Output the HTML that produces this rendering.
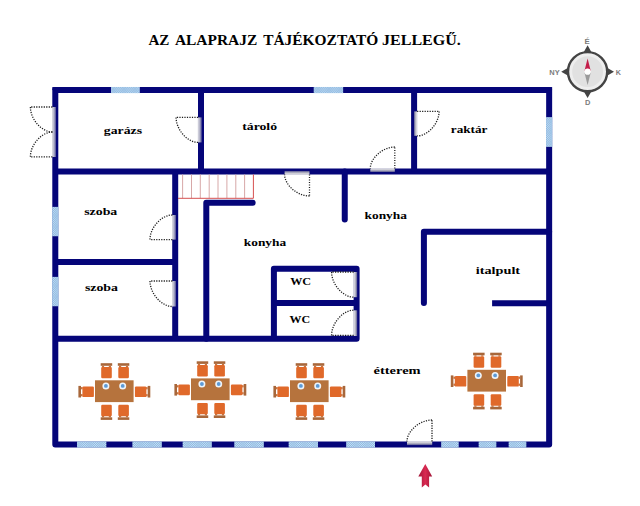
<!DOCTYPE html>
<html><head><meta charset="utf-8"><title>Alaprajz</title>
<style>
html,body{margin:0;padding:0;background:#fff;}
body{width:640px;height:506px;overflow:hidden;font-family:"Liberation Serif",serif;}
svg{display:block;}
.dot{fill:none;stroke:#1c1c1c;stroke-width:1.3;stroke-dasharray:1.2 1.3;}
</style></head><body>
<svg width="640" height="506" viewBox="0 0 640 506">
<rect width="640" height="506" fill="#fff"/>
<defs>
<pattern id="win" width="2" height="2" patternUnits="userSpaceOnUse"><rect width="2" height="2" fill="#b4d8f0"/><path d="M0,0 L2,2 M2,0 L0,2" stroke="#86b0da" stroke-width="0.62"/></pattern>
<linearGradient id="gL" x1="0" x2="1" y1="0" y2="0"><stop offset="0" stop-color="#f2f2f2"/><stop offset="0.45" stop-color="#bcbcc8"/><stop offset="0.8" stop-color="#6c6c9c"/><stop offset="1" stop-color="#050579"/></linearGradient>
<linearGradient id="gL2" x1="0" x2="1" y1="0" y2="0"><stop offset="0" stop-color="#dedee6"/><stop offset="0.45" stop-color="#b4b4c8"/><stop offset="0.8" stop-color="#6464a0"/><stop offset="1" stop-color="#050579"/></linearGradient>
<linearGradient id="gR" x1="1" x2="0" y1="0" y2="0"><stop offset="0" stop-color="#f2f2f2"/><stop offset="0.45" stop-color="#bcbcc8"/><stop offset="0.8" stop-color="#6c6c9c"/><stop offset="1" stop-color="#050579"/></linearGradient>
<linearGradient id="gT" x1="0" x2="0" y1="0" y2="1"><stop offset="0" stop-color="#f2f2f2"/><stop offset="0.45" stop-color="#bcbcc8"/><stop offset="0.8" stop-color="#6c6c9c"/><stop offset="1" stop-color="#050579"/></linearGradient>
<linearGradient id="gB" x1="0" x2="0" y1="1" y2="0"><stop offset="0" stop-color="#f2f2f2"/><stop offset="0.45" stop-color="#bcbcc8"/><stop offset="0.8" stop-color="#6c6c9c"/><stop offset="1" stop-color="#050579"/></linearGradient>
<linearGradient id="arr" x1="0" x2="1" y1="0" y2="0"><stop offset="0" stop-color="#a01436"/><stop offset="0.5" stop-color="#da2a52"/><stop offset="1" stop-color="#a01436"/></linearGradient>
</defs>
<g fill="none" stroke="#050579" stroke-width="6.0" stroke-linejoin="round" stroke-linecap="butt">
<path d="M55.3,90.05 H549.15 V444.5 H55.3 Z"/>
<rect x="52.3" y="87.05" width="3.0" height="3.0" fill="#050579" stroke="none"/>
<rect x="549.15" y="87.05" width="3.0" height="3.0" fill="#050579" stroke="none"/>
<path d="M55.3,171.5 H549.15"/>
<path d="M201,90.05 V171.5"/>
<path d="M414.1,90.05 V171.5"/>
<path d="M175.2,171.5 V338.8"/>
<path d="M55.3,261.9 H175.2"/>
<path d="M55.3,338.8 H356.6 V268.7 H273.9 V338.8"/>
<path d="M273.9,303.1 H356.6"/>
<path d="M252.7,202.85 H206.3 V338.8" stroke-linecap="round"/>
<path d="M344.75,171.5 V219.5" stroke-linecap="round"/>
<path d="M549.15,231.85 H423.9 V302.9" stroke-linecap="round"/>
<path d="M492.1,303.15 H549.15"/>
</g>
<clipPath id="c1"><rect x="111.00" y="86.95" width="28.70" height="6.20"/></clipPath><rect x="111.00" y="86.95" width="28.70" height="6.20" fill="#c2e0f6"/><path d="M104.40,86.95l6.20,6.20M110.60,86.95l-6.20,6.20M106.60,86.95l6.20,6.20M112.80,86.95l-6.20,6.20M108.80,86.95l6.20,6.20M115.00,86.95l-6.20,6.20M111.00,86.95l6.20,6.20M117.20,86.95l-6.20,6.20M113.20,86.95l6.20,6.20M119.40,86.95l-6.20,6.20M115.40,86.95l6.20,6.20M121.60,86.95l-6.20,6.20M117.60,86.95l6.20,6.20M123.80,86.95l-6.20,6.20M119.80,86.95l6.20,6.20M126.00,86.95l-6.20,6.20M122.00,86.95l6.20,6.20M128.20,86.95l-6.20,6.20M124.20,86.95l6.20,6.20M130.40,86.95l-6.20,6.20M126.40,86.95l6.20,6.20M132.60,86.95l-6.20,6.20M128.60,86.95l6.20,6.20M134.80,86.95l-6.20,6.20M130.80,86.95l6.20,6.20M137.00,86.95l-6.20,6.20M133.00,86.95l6.20,6.20M139.20,86.95l-6.20,6.20M135.20,86.95l6.20,6.20M141.40,86.95l-6.20,6.20M137.40,86.95l6.20,6.20M143.60,86.95l-6.20,6.20M139.60,86.95l6.20,6.20M145.80,86.95l-6.20,6.20M141.80,86.95l6.20,6.20M148.00,86.95l-6.20,6.20M144.00,86.95l6.20,6.20M150.20,86.95l-6.20,6.20M146.20,86.95l6.20,6.20M152.40,86.95l-6.20,6.20" clip-path="url(#c1)" stroke="#84aeda" stroke-width="0.6" fill="none"/>
<clipPath id="c2"><rect x="313.80" y="86.95" width="29.30" height="6.20"/></clipPath><rect x="313.80" y="86.95" width="29.30" height="6.20" fill="#c2e0f6"/><path d="M307.20,86.95l6.20,6.20M313.40,86.95l-6.20,6.20M309.40,86.95l6.20,6.20M315.60,86.95l-6.20,6.20M311.60,86.95l6.20,6.20M317.80,86.95l-6.20,6.20M313.80,86.95l6.20,6.20M320.00,86.95l-6.20,6.20M316.00,86.95l6.20,6.20M322.20,86.95l-6.20,6.20M318.20,86.95l6.20,6.20M324.40,86.95l-6.20,6.20M320.40,86.95l6.20,6.20M326.60,86.95l-6.20,6.20M322.60,86.95l6.20,6.20M328.80,86.95l-6.20,6.20M324.80,86.95l6.20,6.20M331.00,86.95l-6.20,6.20M327.00,86.95l6.20,6.20M333.20,86.95l-6.20,6.20M329.20,86.95l6.20,6.20M335.40,86.95l-6.20,6.20M331.40,86.95l6.20,6.20M337.60,86.95l-6.20,6.20M333.60,86.95l6.20,6.20M339.80,86.95l-6.20,6.20M335.80,86.95l6.20,6.20M342.00,86.95l-6.20,6.20M338.00,86.95l6.20,6.20M344.20,86.95l-6.20,6.20M340.20,86.95l6.20,6.20M346.40,86.95l-6.20,6.20M342.40,86.95l6.20,6.20M348.60,86.95l-6.20,6.20M344.60,86.95l6.20,6.20M350.80,86.95l-6.20,6.20M346.80,86.95l6.20,6.20M353.00,86.95l-6.20,6.20M349.00,86.95l6.20,6.20M355.20,86.95l-6.20,6.20M351.20,86.95l6.20,6.20M357.40,86.95l-6.20,6.20" clip-path="url(#c2)" stroke="#84aeda" stroke-width="0.6" fill="none"/>
<clipPath id="c3"><rect x="77.00" y="441.40" width="29.25" height="6.20"/></clipPath><rect x="77.00" y="441.40" width="29.25" height="6.20" fill="#c2e0f6"/><path d="M70.40,441.40l6.20,6.20M76.60,441.40l-6.20,6.20M72.60,441.40l6.20,6.20M78.80,441.40l-6.20,6.20M74.80,441.40l6.20,6.20M81.00,441.40l-6.20,6.20M77.00,441.40l6.20,6.20M83.20,441.40l-6.20,6.20M79.20,441.40l6.20,6.20M85.40,441.40l-6.20,6.20M81.40,441.40l6.20,6.20M87.60,441.40l-6.20,6.20M83.60,441.40l6.20,6.20M89.80,441.40l-6.20,6.20M85.80,441.40l6.20,6.20M92.00,441.40l-6.20,6.20M88.00,441.40l6.20,6.20M94.20,441.40l-6.20,6.20M90.20,441.40l6.20,6.20M96.40,441.40l-6.20,6.20M92.40,441.40l6.20,6.20M98.60,441.40l-6.20,6.20M94.60,441.40l6.20,6.20M100.80,441.40l-6.20,6.20M96.80,441.40l6.20,6.20M103.00,441.40l-6.20,6.20M99.00,441.40l6.20,6.20M105.20,441.40l-6.20,6.20M101.20,441.40l6.20,6.20M107.40,441.40l-6.20,6.20M103.40,441.40l6.20,6.20M109.60,441.40l-6.20,6.20M105.60,441.40l6.20,6.20M111.80,441.40l-6.20,6.20M107.80,441.40l6.20,6.20M114.00,441.40l-6.20,6.20M110.00,441.40l6.20,6.20M116.20,441.40l-6.20,6.20M112.20,441.40l6.20,6.20M118.40,441.40l-6.20,6.20M114.40,441.40l6.20,6.20M120.60,441.40l-6.20,6.20" clip-path="url(#c3)" stroke="#84aeda" stroke-width="0.6" fill="none"/>
<clipPath id="c4"><rect x="132.50" y="441.40" width="29.25" height="6.20"/></clipPath><rect x="132.50" y="441.40" width="29.25" height="6.20" fill="#c2e0f6"/><path d="M125.90,441.40l6.20,6.20M132.10,441.40l-6.20,6.20M128.10,441.40l6.20,6.20M134.30,441.40l-6.20,6.20M130.30,441.40l6.20,6.20M136.50,441.40l-6.20,6.20M132.50,441.40l6.20,6.20M138.70,441.40l-6.20,6.20M134.70,441.40l6.20,6.20M140.90,441.40l-6.20,6.20M136.90,441.40l6.20,6.20M143.10,441.40l-6.20,6.20M139.10,441.40l6.20,6.20M145.30,441.40l-6.20,6.20M141.30,441.40l6.20,6.20M147.50,441.40l-6.20,6.20M143.50,441.40l6.20,6.20M149.70,441.40l-6.20,6.20M145.70,441.40l6.20,6.20M151.90,441.40l-6.20,6.20M147.90,441.40l6.20,6.20M154.10,441.40l-6.20,6.20M150.10,441.40l6.20,6.20M156.30,441.40l-6.20,6.20M152.30,441.40l6.20,6.20M158.50,441.40l-6.20,6.20M154.50,441.40l6.20,6.20M160.70,441.40l-6.20,6.20M156.70,441.40l6.20,6.20M162.90,441.40l-6.20,6.20M158.90,441.40l6.20,6.20M165.10,441.40l-6.20,6.20M161.10,441.40l6.20,6.20M167.30,441.40l-6.20,6.20M163.30,441.40l6.20,6.20M169.50,441.40l-6.20,6.20M165.50,441.40l6.20,6.20M171.70,441.40l-6.20,6.20M167.70,441.40l6.20,6.20M173.90,441.40l-6.20,6.20M169.90,441.40l6.20,6.20M176.10,441.40l-6.20,6.20" clip-path="url(#c4)" stroke="#84aeda" stroke-width="0.6" fill="none"/>
<clipPath id="c5"><rect x="182.75" y="441.40" width="29.00" height="6.20"/></clipPath><rect x="182.75" y="441.40" width="29.00" height="6.20" fill="#c2e0f6"/><path d="M176.15,441.40l6.20,6.20M182.35,441.40l-6.20,6.20M178.35,441.40l6.20,6.20M184.55,441.40l-6.20,6.20M180.55,441.40l6.20,6.20M186.75,441.40l-6.20,6.20M182.75,441.40l6.20,6.20M188.95,441.40l-6.20,6.20M184.95,441.40l6.20,6.20M191.15,441.40l-6.20,6.20M187.15,441.40l6.20,6.20M193.35,441.40l-6.20,6.20M189.35,441.40l6.20,6.20M195.55,441.40l-6.20,6.20M191.55,441.40l6.20,6.20M197.75,441.40l-6.20,6.20M193.75,441.40l6.20,6.20M199.95,441.40l-6.20,6.20M195.95,441.40l6.20,6.20M202.15,441.40l-6.20,6.20M198.15,441.40l6.20,6.20M204.35,441.40l-6.20,6.20M200.35,441.40l6.20,6.20M206.55,441.40l-6.20,6.20M202.55,441.40l6.20,6.20M208.75,441.40l-6.20,6.20M204.75,441.40l6.20,6.20M210.95,441.40l-6.20,6.20M206.95,441.40l6.20,6.20M213.15,441.40l-6.20,6.20M209.15,441.40l6.20,6.20M215.35,441.40l-6.20,6.20M211.35,441.40l6.20,6.20M217.55,441.40l-6.20,6.20M213.55,441.40l6.20,6.20M219.75,441.40l-6.20,6.20M215.75,441.40l6.20,6.20M221.95,441.40l-6.20,6.20M217.95,441.40l6.20,6.20M224.15,441.40l-6.20,6.20M220.15,441.40l6.20,6.20M226.35,441.40l-6.20,6.20" clip-path="url(#c5)" stroke="#84aeda" stroke-width="0.6" fill="none"/>
<clipPath id="c6"><rect x="234.40" y="441.40" width="29.35" height="6.20"/></clipPath><rect x="234.40" y="441.40" width="29.35" height="6.20" fill="#c2e0f6"/><path d="M227.80,441.40l6.20,6.20M234.00,441.40l-6.20,6.20M230.00,441.40l6.20,6.20M236.20,441.40l-6.20,6.20M232.20,441.40l6.20,6.20M238.40,441.40l-6.20,6.20M234.40,441.40l6.20,6.20M240.60,441.40l-6.20,6.20M236.60,441.40l6.20,6.20M242.80,441.40l-6.20,6.20M238.80,441.40l6.20,6.20M245.00,441.40l-6.20,6.20M241.00,441.40l6.20,6.20M247.20,441.40l-6.20,6.20M243.20,441.40l6.20,6.20M249.40,441.40l-6.20,6.20M245.40,441.40l6.20,6.20M251.60,441.40l-6.20,6.20M247.60,441.40l6.20,6.20M253.80,441.40l-6.20,6.20M249.80,441.40l6.20,6.20M256.00,441.40l-6.20,6.20M252.00,441.40l6.20,6.20M258.20,441.40l-6.20,6.20M254.20,441.40l6.20,6.20M260.40,441.40l-6.20,6.20M256.40,441.40l6.20,6.20M262.60,441.40l-6.20,6.20M258.60,441.40l6.20,6.20M264.80,441.40l-6.20,6.20M260.80,441.40l6.20,6.20M267.00,441.40l-6.20,6.20M263.00,441.40l6.20,6.20M269.20,441.40l-6.20,6.20M265.20,441.40l6.20,6.20M271.40,441.40l-6.20,6.20M267.40,441.40l6.20,6.20M273.60,441.40l-6.20,6.20M269.60,441.40l6.20,6.20M275.80,441.40l-6.20,6.20M271.80,441.40l6.20,6.20M278.00,441.40l-6.20,6.20" clip-path="url(#c6)" stroke="#84aeda" stroke-width="0.6" fill="none"/>
<clipPath id="c7"><rect x="288.75" y="441.40" width="29.25" height="6.20"/></clipPath><rect x="288.75" y="441.40" width="29.25" height="6.20" fill="#c2e0f6"/><path d="M282.15,441.40l6.20,6.20M288.35,441.40l-6.20,6.20M284.35,441.40l6.20,6.20M290.55,441.40l-6.20,6.20M286.55,441.40l6.20,6.20M292.75,441.40l-6.20,6.20M288.75,441.40l6.20,6.20M294.95,441.40l-6.20,6.20M290.95,441.40l6.20,6.20M297.15,441.40l-6.20,6.20M293.15,441.40l6.20,6.20M299.35,441.40l-6.20,6.20M295.35,441.40l6.20,6.20M301.55,441.40l-6.20,6.20M297.55,441.40l6.20,6.20M303.75,441.40l-6.20,6.20M299.75,441.40l6.20,6.20M305.95,441.40l-6.20,6.20M301.95,441.40l6.20,6.20M308.15,441.40l-6.20,6.20M304.15,441.40l6.20,6.20M310.35,441.40l-6.20,6.20M306.35,441.40l6.20,6.20M312.55,441.40l-6.20,6.20M308.55,441.40l6.20,6.20M314.75,441.40l-6.20,6.20M310.75,441.40l6.20,6.20M316.95,441.40l-6.20,6.20M312.95,441.40l6.20,6.20M319.15,441.40l-6.20,6.20M315.15,441.40l6.20,6.20M321.35,441.40l-6.20,6.20M317.35,441.40l6.20,6.20M323.55,441.40l-6.20,6.20M319.55,441.40l6.20,6.20M325.75,441.40l-6.20,6.20M321.75,441.40l6.20,6.20M327.95,441.40l-6.20,6.20M323.95,441.40l6.20,6.20M330.15,441.40l-6.20,6.20M326.15,441.40l6.20,6.20M332.35,441.40l-6.20,6.20" clip-path="url(#c7)" stroke="#84aeda" stroke-width="0.6" fill="none"/>
<clipPath id="c8"><rect x="346.25" y="441.40" width="28.75" height="6.20"/></clipPath><rect x="346.25" y="441.40" width="28.75" height="6.20" fill="#c2e0f6"/><path d="M339.65,441.40l6.20,6.20M345.85,441.40l-6.20,6.20M341.85,441.40l6.20,6.20M348.05,441.40l-6.20,6.20M344.05,441.40l6.20,6.20M350.25,441.40l-6.20,6.20M346.25,441.40l6.20,6.20M352.45,441.40l-6.20,6.20M348.45,441.40l6.20,6.20M354.65,441.40l-6.20,6.20M350.65,441.40l6.20,6.20M356.85,441.40l-6.20,6.20M352.85,441.40l6.20,6.20M359.05,441.40l-6.20,6.20M355.05,441.40l6.20,6.20M361.25,441.40l-6.20,6.20M357.25,441.40l6.20,6.20M363.45,441.40l-6.20,6.20M359.45,441.40l6.20,6.20M365.65,441.40l-6.20,6.20M361.65,441.40l6.20,6.20M367.85,441.40l-6.20,6.20M363.85,441.40l6.20,6.20M370.05,441.40l-6.20,6.20M366.05,441.40l6.20,6.20M372.25,441.40l-6.20,6.20M368.25,441.40l6.20,6.20M374.45,441.40l-6.20,6.20M370.45,441.40l6.20,6.20M376.65,441.40l-6.20,6.20M372.65,441.40l6.20,6.20M378.85,441.40l-6.20,6.20M374.85,441.40l6.20,6.20M381.05,441.40l-6.20,6.20M377.05,441.40l6.20,6.20M383.25,441.40l-6.20,6.20M379.25,441.40l6.20,6.20M385.45,441.40l-6.20,6.20M381.45,441.40l6.20,6.20M387.65,441.40l-6.20,6.20" clip-path="url(#c8)" stroke="#84aeda" stroke-width="0.6" fill="none"/>
<clipPath id="c9"><rect x="441.25" y="441.40" width="17.35" height="6.20"/></clipPath><rect x="441.25" y="441.40" width="17.35" height="6.20" fill="#c2e0f6"/><path d="M434.65,441.40l6.20,6.20M440.85,441.40l-6.20,6.20M436.85,441.40l6.20,6.20M443.05,441.40l-6.20,6.20M439.05,441.40l6.20,6.20M445.25,441.40l-6.20,6.20M441.25,441.40l6.20,6.20M447.45,441.40l-6.20,6.20M443.45,441.40l6.20,6.20M449.65,441.40l-6.20,6.20M445.65,441.40l6.20,6.20M451.85,441.40l-6.20,6.20M447.85,441.40l6.20,6.20M454.05,441.40l-6.20,6.20M450.05,441.40l6.20,6.20M456.25,441.40l-6.20,6.20M452.25,441.40l6.20,6.20M458.45,441.40l-6.20,6.20M454.45,441.40l6.20,6.20M460.65,441.40l-6.20,6.20M456.65,441.40l6.20,6.20M462.85,441.40l-6.20,6.20M458.85,441.40l6.20,6.20M465.05,441.40l-6.20,6.20M461.05,441.40l6.20,6.20M467.25,441.40l-6.20,6.20M463.25,441.40l6.20,6.20M469.45,441.40l-6.20,6.20M465.45,441.40l6.20,6.20M471.65,441.40l-6.20,6.20" clip-path="url(#c9)" stroke="#84aeda" stroke-width="0.6" fill="none"/>
<clipPath id="c10"><rect x="478.75" y="441.40" width="17.50" height="6.20"/></clipPath><rect x="478.75" y="441.40" width="17.50" height="6.20" fill="#c2e0f6"/><path d="M472.15,441.40l6.20,6.20M478.35,441.40l-6.20,6.20M474.35,441.40l6.20,6.20M480.55,441.40l-6.20,6.20M476.55,441.40l6.20,6.20M482.75,441.40l-6.20,6.20M478.75,441.40l6.20,6.20M484.95,441.40l-6.20,6.20M480.95,441.40l6.20,6.20M487.15,441.40l-6.20,6.20M483.15,441.40l6.20,6.20M489.35,441.40l-6.20,6.20M485.35,441.40l6.20,6.20M491.55,441.40l-6.20,6.20M487.55,441.40l6.20,6.20M493.75,441.40l-6.20,6.20M489.75,441.40l6.20,6.20M495.95,441.40l-6.20,6.20M491.95,441.40l6.20,6.20M498.15,441.40l-6.20,6.20M494.15,441.40l6.20,6.20M500.35,441.40l-6.20,6.20M496.35,441.40l6.20,6.20M502.55,441.40l-6.20,6.20M498.55,441.40l6.20,6.20M504.75,441.40l-6.20,6.20M500.75,441.40l6.20,6.20M506.95,441.40l-6.20,6.20M502.95,441.40l6.20,6.20M509.15,441.40l-6.20,6.20" clip-path="url(#c10)" stroke="#84aeda" stroke-width="0.6" fill="none"/>
<clipPath id="c11"><rect x="508.75" y="441.40" width="17.50" height="6.20"/></clipPath><rect x="508.75" y="441.40" width="17.50" height="6.20" fill="#c2e0f6"/><path d="M502.15,441.40l6.20,6.20M508.35,441.40l-6.20,6.20M504.35,441.40l6.20,6.20M510.55,441.40l-6.20,6.20M506.55,441.40l6.20,6.20M512.75,441.40l-6.20,6.20M508.75,441.40l6.20,6.20M514.95,441.40l-6.20,6.20M510.95,441.40l6.20,6.20M517.15,441.40l-6.20,6.20M513.15,441.40l6.20,6.20M519.35,441.40l-6.20,6.20M515.35,441.40l6.20,6.20M521.55,441.40l-6.20,6.20M517.55,441.40l6.20,6.20M523.75,441.40l-6.20,6.20M519.75,441.40l6.20,6.20M525.95,441.40l-6.20,6.20M521.95,441.40l6.20,6.20M528.15,441.40l-6.20,6.20M524.15,441.40l6.20,6.20M530.35,441.40l-6.20,6.20M526.35,441.40l6.20,6.20M532.55,441.40l-6.20,6.20M528.55,441.40l6.20,6.20M534.75,441.40l-6.20,6.20M530.75,441.40l6.20,6.20M536.95,441.40l-6.20,6.20M532.95,441.40l6.20,6.20M539.15,441.40l-6.20,6.20" clip-path="url(#c11)" stroke="#84aeda" stroke-width="0.6" fill="none"/>
<clipPath id="c12"><rect x="52.20" y="206.90" width="6.20" height="29.30"/></clipPath><rect x="52.20" y="206.90" width="6.20" height="29.30" fill="#c2e0f6"/><path d="M21.40,206.90l29.30,29.30M50.70,206.90l-29.30,29.30M23.60,206.90l29.30,29.30M52.90,206.90l-29.30,29.30M25.80,206.90l29.30,29.30M55.10,206.90l-29.30,29.30M28.00,206.90l29.30,29.30M57.30,206.90l-29.30,29.30M30.20,206.90l29.30,29.30M59.50,206.90l-29.30,29.30M32.40,206.90l29.30,29.30M61.70,206.90l-29.30,29.30M34.60,206.90l29.30,29.30M63.90,206.90l-29.30,29.30M36.80,206.90l29.30,29.30M66.10,206.90l-29.30,29.30M39.00,206.90l29.30,29.30M68.30,206.90l-29.30,29.30M41.20,206.90l29.30,29.30M70.50,206.90l-29.30,29.30M43.40,206.90l29.30,29.30M72.70,206.90l-29.30,29.30M45.60,206.90l29.30,29.30M74.90,206.90l-29.30,29.30M47.80,206.90l29.30,29.30M77.10,206.90l-29.30,29.30M50.00,206.90l29.30,29.30M79.30,206.90l-29.30,29.30M52.20,206.90l29.30,29.30M81.50,206.90l-29.30,29.30M54.40,206.90l29.30,29.30M83.70,206.90l-29.30,29.30M56.60,206.90l29.30,29.30M85.90,206.90l-29.30,29.30M58.80,206.90l29.30,29.30M88.10,206.90l-29.30,29.30M61.00,206.90l29.30,29.30M90.30,206.90l-29.30,29.30M63.20,206.90l29.30,29.30M92.50,206.90l-29.30,29.30M65.40,206.90l29.30,29.30M94.70,206.90l-29.30,29.30M67.60,206.90l29.30,29.30M96.90,206.90l-29.30,29.30M69.80,206.90l29.30,29.30M99.10,206.90l-29.30,29.30M72.00,206.90l29.30,29.30M101.30,206.90l-29.30,29.30M74.20,206.90l29.30,29.30M103.50,206.90l-29.30,29.30M76.40,206.90l29.30,29.30M105.70,206.90l-29.30,29.30M78.60,206.90l29.30,29.30M107.90,206.90l-29.30,29.30M80.80,206.90l29.30,29.30M110.10,206.90l-29.30,29.30M83.00,206.90l29.30,29.30M112.30,206.90l-29.30,29.30M85.20,206.90l29.30,29.30M114.50,206.90l-29.30,29.30M87.40,206.90l29.30,29.30M116.70,206.90l-29.30,29.30M89.60,206.90l29.30,29.30M118.90,206.90l-29.30,29.30" clip-path="url(#c12)" stroke="#84aeda" stroke-width="0.6" fill="none"/>
<clipPath id="c13"><rect x="52.20" y="276.90" width="6.20" height="29.30"/></clipPath><rect x="52.20" y="276.90" width="6.20" height="29.30" fill="#c2e0f6"/><path d="M21.40,276.90l29.30,29.30M50.70,276.90l-29.30,29.30M23.60,276.90l29.30,29.30M52.90,276.90l-29.30,29.30M25.80,276.90l29.30,29.30M55.10,276.90l-29.30,29.30M28.00,276.90l29.30,29.30M57.30,276.90l-29.30,29.30M30.20,276.90l29.30,29.30M59.50,276.90l-29.30,29.30M32.40,276.90l29.30,29.30M61.70,276.90l-29.30,29.30M34.60,276.90l29.30,29.30M63.90,276.90l-29.30,29.30M36.80,276.90l29.30,29.30M66.10,276.90l-29.30,29.30M39.00,276.90l29.30,29.30M68.30,276.90l-29.30,29.30M41.20,276.90l29.30,29.30M70.50,276.90l-29.30,29.30M43.40,276.90l29.30,29.30M72.70,276.90l-29.30,29.30M45.60,276.90l29.30,29.30M74.90,276.90l-29.30,29.30M47.80,276.90l29.30,29.30M77.10,276.90l-29.30,29.30M50.00,276.90l29.30,29.30M79.30,276.90l-29.30,29.30M52.20,276.90l29.30,29.30M81.50,276.90l-29.30,29.30M54.40,276.90l29.30,29.30M83.70,276.90l-29.30,29.30M56.60,276.90l29.30,29.30M85.90,276.90l-29.30,29.30M58.80,276.90l29.30,29.30M88.10,276.90l-29.30,29.30M61.00,276.90l29.30,29.30M90.30,276.90l-29.30,29.30M63.20,276.90l29.30,29.30M92.50,276.90l-29.30,29.30M65.40,276.90l29.30,29.30M94.70,276.90l-29.30,29.30M67.60,276.90l29.30,29.30M96.90,276.90l-29.30,29.30M69.80,276.90l29.30,29.30M99.10,276.90l-29.30,29.30M72.00,276.90l29.30,29.30M101.30,276.90l-29.30,29.30M74.20,276.90l29.30,29.30M103.50,276.90l-29.30,29.30M76.40,276.90l29.30,29.30M105.70,276.90l-29.30,29.30M78.60,276.90l29.30,29.30M107.90,276.90l-29.30,29.30M80.80,276.90l29.30,29.30M110.10,276.90l-29.30,29.30M83.00,276.90l29.30,29.30M112.30,276.90l-29.30,29.30M85.20,276.90l29.30,29.30M114.50,276.90l-29.30,29.30M87.40,276.90l29.30,29.30M116.70,276.90l-29.30,29.30M89.60,276.90l29.30,29.30M118.90,276.90l-29.30,29.30" clip-path="url(#c13)" stroke="#84aeda" stroke-width="0.6" fill="none"/>
<clipPath id="c14"><rect x="546.05" y="117.20" width="6.20" height="29.60"/></clipPath><rect x="546.05" y="117.20" width="6.20" height="29.60" fill="#c2e0f6"/><path d="M515.25,117.20l29.60,29.60M544.85,117.20l-29.60,29.60M517.45,117.20l29.60,29.60M547.05,117.20l-29.60,29.60M519.65,117.20l29.60,29.60M549.25,117.20l-29.60,29.60M521.85,117.20l29.60,29.60M551.45,117.20l-29.60,29.60M524.05,117.20l29.60,29.60M553.65,117.20l-29.60,29.60M526.25,117.20l29.60,29.60M555.85,117.20l-29.60,29.60M528.45,117.20l29.60,29.60M558.05,117.20l-29.60,29.60M530.65,117.20l29.60,29.60M560.25,117.20l-29.60,29.60M532.85,117.20l29.60,29.60M562.45,117.20l-29.60,29.60M535.05,117.20l29.60,29.60M564.65,117.20l-29.60,29.60M537.25,117.20l29.60,29.60M566.85,117.20l-29.60,29.60M539.45,117.20l29.60,29.60M569.05,117.20l-29.60,29.60M541.65,117.20l29.60,29.60M571.25,117.20l-29.60,29.60M543.85,117.20l29.60,29.60M573.45,117.20l-29.60,29.60M546.05,117.20l29.60,29.60M575.65,117.20l-29.60,29.60M548.25,117.20l29.60,29.60M577.85,117.20l-29.60,29.60M550.45,117.20l29.60,29.60M580.05,117.20l-29.60,29.60M552.65,117.20l29.60,29.60M582.25,117.20l-29.60,29.60M554.85,117.20l29.60,29.60M584.45,117.20l-29.60,29.60M557.05,117.20l29.60,29.60M586.65,117.20l-29.60,29.60M559.25,117.20l29.60,29.60M588.85,117.20l-29.60,29.60M561.45,117.20l29.60,29.60M591.05,117.20l-29.60,29.60M563.65,117.20l29.60,29.60M593.25,117.20l-29.60,29.60M565.85,117.20l29.60,29.60M595.45,117.20l-29.60,29.60M568.05,117.20l29.60,29.60M597.65,117.20l-29.60,29.60M570.25,117.20l29.60,29.60M599.85,117.20l-29.60,29.60M572.45,117.20l29.60,29.60M602.05,117.20l-29.60,29.60M574.65,117.20l29.60,29.60M604.25,117.20l-29.60,29.60M576.85,117.20l29.60,29.60M606.45,117.20l-29.60,29.60M579.05,117.20l29.60,29.60M608.65,117.20l-29.60,29.60M581.25,117.20l29.60,29.60M610.85,117.20l-29.60,29.60M583.45,117.20l29.60,29.60M613.05,117.20l-29.60,29.60" clip-path="url(#c14)" stroke="#84aeda" stroke-width="0.6" fill="none"/>
<g stroke="#d29e9e" stroke-width="0.9" fill="none"><path d="M182.6,174.5 V198.3"/><path d="M191.5,174.5 V198.3"/><path d="M200.3,174.5 V198.3"/><path d="M209.2,174.5 V198.3"/><path d="M218.0,174.5 V198.3"/><path d="M226.9,174.5 V198.3"/><path d="M235.8,174.5 V198.3"/><path d="M244.6,174.5 V198.3"/></g><path d="M178,198.3 H253.4 V174.5" fill="none" stroke="#d65050" stroke-width="1"/>
<rect x="52.0" y="107" width="4.4" height="50" fill="url(#gL2)"/>
<path d="M52.40,107.00 L30.40,107.00" class="dot"/><path d="M30.40,107.00 C30.40,119.25 41.62,132.00 52.40,132.00" class="dot"/>
<path d="M52.40,156.80 L30.40,156.80" class="dot"/><path d="M30.40,156.80 C30.40,144.65 41.62,132.00 52.40,132.00" class="dot"/>
<rect x="197.7" y="117.4" width="4.4" height="25" fill="url(#gL2)"/>
<path d="M198.10,117.40 L176.10,117.40" class="dot"/><path d="M176.10,117.40 C176.10,129.65 187.32,142.40 198.10,142.40" class="dot"/>
<rect x="413.5" y="111.4" width="4.0" height="24.4" fill="url(#gR)"/>
<path d="M417.10,111.40 L439.10,111.40" class="dot"/><path d="M439.10,111.40 C439.10,123.41 427.88,135.90 417.10,135.90" class="dot"/>
<rect x="370.3" y="168.2" width="24.5" height="4.3" fill="url(#gT)"/>
<path d="M394.80,168.60 L394.80,147.00" class="dot"/><path d="M394.80,147.00 C382.80,147.00 370.30,158.02 370.30,168.60" class="dot"/>
<rect x="284.6" y="170.5" width="24.9" height="4.3" fill="url(#gB)"/>
<path d="M309.50,174.40 L309.50,196.00" class="dot"/><path d="M309.50,196.00 C297.30,196.00 284.60,184.98 284.60,174.40" class="dot"/>
<rect x="172.0" y="215" width="4.4" height="24.6" fill="url(#gL2)"/>
<path d="M172.40,239.60 L150.00,239.60" class="dot"/><path d="M150.00,239.60 C150.00,227.55 161.42,215.00 172.40,215.00" class="dot"/>
<rect x="172.0" y="281" width="4.4" height="25.5" fill="url(#gL2)"/>
<path d="M172.40,281.00 L150.00,281.00" class="dot"/><path d="M150.00,281.00 C150.00,293.50 161.42,306.50 172.40,306.50" class="dot"/>
<rect x="353.3" y="272" width="4.4" height="25.2" fill="url(#gL)"/>
<path d="M353.70,272.00 L331.60,272.00" class="dot"/><path d="M331.60,272.00 C331.60,284.35 342.87,297.20 353.70,297.20" class="dot"/>
<rect x="353.3" y="310.3" width="4.4" height="25.7" fill="url(#gL)"/>
<path d="M353.70,335.40 L331.60,335.40" class="dot"/><path d="M331.60,335.40 C331.60,323.05 342.87,310.20 353.70,310.20" class="dot"/>
<rect x="407" y="441.2" width="25.2" height="4.4" fill="url(#gT)"/>
<path d="M432.00,441.50 L432.00,420.00" class="dot"/><path d="M432.00,420.00 C419.75,420.00 407.00,430.96 407.00,441.50" class="dot"/>
<g transform="translate(0,0)"><rect x="95" y="380.3" width="38.6" height="21.8" fill="#b6733d"/><rect x="100.7" y="363.2" width="11.5" height="2.6" fill="#a8673a"/><rect x="101.9" y="365.8" width="2.2" height="1.4" fill="#c8733f"/><rect x="108.8" y="365.8" width="2.2" height="1.4" fill="#c8733f"/><rect x="101.2" y="366.9" width="10.6" height="11.4" rx="1.2" fill="#e0692a"/><rect x="101.2" y="404.8" width="10.6" height="11.4" rx="1.2" fill="#e0692a"/><rect x="101.9" y="415.9" width="2.2" height="1.4" fill="#c8733f"/><rect x="108.8" y="415.9" width="2.2" height="1.4" fill="#c8733f"/><rect x="100.7" y="417.3" width="11.5" height="2.6" fill="#a8673a"/><rect x="117.8" y="363.2" width="11.5" height="2.6" fill="#a8673a"/><rect x="119.0" y="365.8" width="2.2" height="1.4" fill="#c8733f"/><rect x="125.89999999999999" y="365.8" width="2.2" height="1.4" fill="#c8733f"/><rect x="118.3" y="366.9" width="10.6" height="11.4" rx="1.2" fill="#e0692a"/><rect x="118.3" y="404.8" width="10.6" height="11.4" rx="1.2" fill="#e0692a"/><rect x="119.0" y="415.9" width="2.2" height="1.4" fill="#c8733f"/><rect x="125.89999999999999" y="415.9" width="2.2" height="1.4" fill="#c8733f"/><rect x="117.8" y="417.3" width="11.5" height="2.6" fill="#a8673a"/><rect x="78.4" y="385.9" width="2.6" height="11.6" fill="#a8673a"/><rect x="81" y="387.1" width="1.6" height="2.2" fill="#c8733f"/><rect x="81" y="394.1" width="1.6" height="2.2" fill="#c8733f"/><rect x="82.4" y="386.4" width="11.5" height="10.7" rx="1.2" fill="#e0692a"/><rect x="147.7" y="385.9" width="2.6" height="11.6" fill="#a8673a"/><rect x="146.1" y="387.1" width="1.6" height="2.2" fill="#c8733f"/><rect x="146.1" y="394.1" width="1.6" height="2.2" fill="#c8733f"/><rect x="134.9" y="386.4" width="11.5" height="10.7" rx="1.2" fill="#e0692a"/><circle cx="105.9" cy="385.9" r="3.5" fill="#eef4fa"/><circle cx="105.9" cy="385.9" r="1.9" fill="#5c9ad6"/><circle cx="122.7" cy="385.9" r="3.5" fill="#eef4fa"/><circle cx="122.7" cy="385.9" r="1.9" fill="#5c9ad6"/></g>
<g transform="translate(96,-1.9)"><rect x="95" y="380.3" width="38.6" height="21.8" fill="#b6733d"/><rect x="100.7" y="363.2" width="11.5" height="2.6" fill="#a8673a"/><rect x="101.9" y="365.8" width="2.2" height="1.4" fill="#c8733f"/><rect x="108.8" y="365.8" width="2.2" height="1.4" fill="#c8733f"/><rect x="101.2" y="366.9" width="10.6" height="11.4" rx="1.2" fill="#e0692a"/><rect x="101.2" y="404.8" width="10.6" height="11.4" rx="1.2" fill="#e0692a"/><rect x="101.9" y="415.9" width="2.2" height="1.4" fill="#c8733f"/><rect x="108.8" y="415.9" width="2.2" height="1.4" fill="#c8733f"/><rect x="100.7" y="417.3" width="11.5" height="2.6" fill="#a8673a"/><rect x="117.8" y="363.2" width="11.5" height="2.6" fill="#a8673a"/><rect x="119.0" y="365.8" width="2.2" height="1.4" fill="#c8733f"/><rect x="125.89999999999999" y="365.8" width="2.2" height="1.4" fill="#c8733f"/><rect x="118.3" y="366.9" width="10.6" height="11.4" rx="1.2" fill="#e0692a"/><rect x="118.3" y="404.8" width="10.6" height="11.4" rx="1.2" fill="#e0692a"/><rect x="119.0" y="415.9" width="2.2" height="1.4" fill="#c8733f"/><rect x="125.89999999999999" y="415.9" width="2.2" height="1.4" fill="#c8733f"/><rect x="117.8" y="417.3" width="11.5" height="2.6" fill="#a8673a"/><rect x="78.4" y="385.9" width="2.6" height="11.6" fill="#a8673a"/><rect x="81" y="387.1" width="1.6" height="2.2" fill="#c8733f"/><rect x="81" y="394.1" width="1.6" height="2.2" fill="#c8733f"/><rect x="82.4" y="386.4" width="11.5" height="10.7" rx="1.2" fill="#e0692a"/><rect x="147.7" y="385.9" width="2.6" height="11.6" fill="#a8673a"/><rect x="146.1" y="387.1" width="1.6" height="2.2" fill="#c8733f"/><rect x="146.1" y="394.1" width="1.6" height="2.2" fill="#c8733f"/><rect x="134.9" y="386.4" width="11.5" height="10.7" rx="1.2" fill="#e0692a"/><circle cx="105.9" cy="385.9" r="3.5" fill="#eef4fa"/><circle cx="105.9" cy="385.9" r="1.9" fill="#5c9ad6"/><circle cx="122.7" cy="385.9" r="3.5" fill="#eef4fa"/><circle cx="122.7" cy="385.9" r="1.9" fill="#5c9ad6"/></g>
<g transform="translate(195,0)"><rect x="95" y="380.3" width="38.6" height="21.8" fill="#b6733d"/><rect x="100.7" y="363.2" width="11.5" height="2.6" fill="#a8673a"/><rect x="101.9" y="365.8" width="2.2" height="1.4" fill="#c8733f"/><rect x="108.8" y="365.8" width="2.2" height="1.4" fill="#c8733f"/><rect x="101.2" y="366.9" width="10.6" height="11.4" rx="1.2" fill="#e0692a"/><rect x="101.2" y="404.8" width="10.6" height="11.4" rx="1.2" fill="#e0692a"/><rect x="101.9" y="415.9" width="2.2" height="1.4" fill="#c8733f"/><rect x="108.8" y="415.9" width="2.2" height="1.4" fill="#c8733f"/><rect x="100.7" y="417.3" width="11.5" height="2.6" fill="#a8673a"/><rect x="117.8" y="363.2" width="11.5" height="2.6" fill="#a8673a"/><rect x="119.0" y="365.8" width="2.2" height="1.4" fill="#c8733f"/><rect x="125.89999999999999" y="365.8" width="2.2" height="1.4" fill="#c8733f"/><rect x="118.3" y="366.9" width="10.6" height="11.4" rx="1.2" fill="#e0692a"/><rect x="118.3" y="404.8" width="10.6" height="11.4" rx="1.2" fill="#e0692a"/><rect x="119.0" y="415.9" width="2.2" height="1.4" fill="#c8733f"/><rect x="125.89999999999999" y="415.9" width="2.2" height="1.4" fill="#c8733f"/><rect x="117.8" y="417.3" width="11.5" height="2.6" fill="#a8673a"/><rect x="78.4" y="385.9" width="2.6" height="11.6" fill="#a8673a"/><rect x="81" y="387.1" width="1.6" height="2.2" fill="#c8733f"/><rect x="81" y="394.1" width="1.6" height="2.2" fill="#c8733f"/><rect x="82.4" y="386.4" width="11.5" height="10.7" rx="1.2" fill="#e0692a"/><rect x="147.7" y="385.9" width="2.6" height="11.6" fill="#a8673a"/><rect x="146.1" y="387.1" width="1.6" height="2.2" fill="#c8733f"/><rect x="146.1" y="394.1" width="1.6" height="2.2" fill="#c8733f"/><rect x="134.9" y="386.4" width="11.5" height="10.7" rx="1.2" fill="#e0692a"/><circle cx="105.9" cy="385.9" r="3.5" fill="#eef4fa"/><circle cx="105.9" cy="385.9" r="1.9" fill="#5c9ad6"/><circle cx="122.7" cy="385.9" r="3.5" fill="#eef4fa"/><circle cx="122.7" cy="385.9" r="1.9" fill="#5c9ad6"/></g>
<g transform="translate(372.4,-10.5)"><rect x="95" y="380.3" width="38.6" height="21.8" fill="#b6733d"/><rect x="100.7" y="363.2" width="11.5" height="2.6" fill="#a8673a"/><rect x="101.9" y="365.8" width="2.2" height="1.4" fill="#c8733f"/><rect x="108.8" y="365.8" width="2.2" height="1.4" fill="#c8733f"/><rect x="101.2" y="366.9" width="10.6" height="11.4" rx="1.2" fill="#e0692a"/><rect x="101.2" y="404.8" width="10.6" height="11.4" rx="1.2" fill="#e0692a"/><rect x="101.9" y="415.9" width="2.2" height="1.4" fill="#c8733f"/><rect x="108.8" y="415.9" width="2.2" height="1.4" fill="#c8733f"/><rect x="100.7" y="417.3" width="11.5" height="2.6" fill="#a8673a"/><rect x="117.8" y="363.2" width="11.5" height="2.6" fill="#a8673a"/><rect x="119.0" y="365.8" width="2.2" height="1.4" fill="#c8733f"/><rect x="125.89999999999999" y="365.8" width="2.2" height="1.4" fill="#c8733f"/><rect x="118.3" y="366.9" width="10.6" height="11.4" rx="1.2" fill="#e0692a"/><rect x="118.3" y="404.8" width="10.6" height="11.4" rx="1.2" fill="#e0692a"/><rect x="119.0" y="415.9" width="2.2" height="1.4" fill="#c8733f"/><rect x="125.89999999999999" y="415.9" width="2.2" height="1.4" fill="#c8733f"/><rect x="117.8" y="417.3" width="11.5" height="2.6" fill="#a8673a"/><rect x="78.4" y="385.9" width="2.6" height="11.6" fill="#a8673a"/><rect x="81" y="387.1" width="1.6" height="2.2" fill="#c8733f"/><rect x="81" y="394.1" width="1.6" height="2.2" fill="#c8733f"/><rect x="82.4" y="386.4" width="11.5" height="10.7" rx="1.2" fill="#e0692a"/><rect x="147.7" y="385.9" width="2.6" height="11.6" fill="#a8673a"/><rect x="146.1" y="387.1" width="1.6" height="2.2" fill="#c8733f"/><rect x="146.1" y="394.1" width="1.6" height="2.2" fill="#c8733f"/><rect x="134.9" y="386.4" width="11.5" height="10.7" rx="1.2" fill="#e0692a"/><circle cx="105.9" cy="385.9" r="3.5" fill="#eef4fa"/><circle cx="105.9" cy="385.9" r="1.9" fill="#5c9ad6"/><circle cx="122.7" cy="385.9" r="3.5" fill="#eef4fa"/><circle cx="122.7" cy="385.9" r="1.9" fill="#5c9ad6"/></g>
<path d="M425.3,464 L432.2,476.6 L429.1,476.6 L429.1,487.6 L425.4,484.6 L421.8,487.6 L421.8,476.6 L418.3,476.6 Z" fill="url(#arr)"/>
<g><path d="M587.6,45.300000000000004 l4.2,7.4 h-8.4 Z M587.6,98.1 l4.2,-7.4 h-8.4 Z M561.2,71.7 l7.4,4.2 v-8.4 Z M614.0,71.7 l-7.4,4.2 v-8.4 Z" fill="#444"/><circle cx="587.6" cy="71.7" r="19.6" fill="#eeeeee" stroke="#444" stroke-width="2.4"/><circle cx="587.6" cy="71.7" r="15.4" fill="#e1e1e1"/><path d="M587.6,58.5 L590.7,70.7 H584.5 Z" fill="#c41e4a"/><path d="M587.6,84.9 L590.7,72.7 H584.5 Z" fill="#9a9a9a"/><circle cx="587.6" cy="71.7" r="3.1" fill="#fff"/></g>
<text x="587.2" y="44.4" text-anchor="middle" font-family="Liberation Sans, sans-serif" font-weight="bold" font-size="7.6" fill="#7c7c7c" textLength="5.2" lengthAdjust="spacingAndGlyphs">É</text>
<text x="587.8" y="105.4" text-anchor="middle" font-family="Liberation Sans, sans-serif" font-weight="bold" font-size="7.6" fill="#7c7c7c" textLength="5.4" lengthAdjust="spacingAndGlyphs">D</text>
<text x="554.5" y="74.6" text-anchor="middle" font-family="Liberation Sans, sans-serif" font-weight="bold" font-size="7.6" fill="#7c7c7c" textLength="10.4" lengthAdjust="spacingAndGlyphs">NY</text>
<text x="618.3" y="74.6" text-anchor="middle" font-family="Liberation Sans, sans-serif" font-weight="bold" font-size="7.6" fill="#7c7c7c" textLength="5.2" lengthAdjust="spacingAndGlyphs">K</text>
<text x="103.80" y="133.8" font-family="Liberation Serif, serif" font-weight="bold" font-size="11.2" fill="#000" textLength="38.20" lengthAdjust="spacingAndGlyphs">garázs</text>
<text x="242.20" y="129.6" font-family="Liberation Serif, serif" font-weight="bold" font-size="11.2" fill="#000" textLength="34.90" lengthAdjust="spacingAndGlyphs">tároló</text>
<text x="450.80" y="132.9" font-family="Liberation Serif, serif" font-weight="bold" font-size="11.2" fill="#000" textLength="36.70" lengthAdjust="spacingAndGlyphs">raktár</text>
<text x="84.20" y="215.2" font-family="Liberation Serif, serif" font-weight="bold" font-size="11.2" fill="#000" textLength="33.10" lengthAdjust="spacingAndGlyphs">szoba</text>
<text x="84.90" y="290.6" font-family="Liberation Serif, serif" font-weight="bold" font-size="11.2" fill="#000" textLength="33.10" lengthAdjust="spacingAndGlyphs">szoba</text>
<text x="243.80" y="245.6" font-family="Liberation Serif, serif" font-weight="bold" font-size="11.2" fill="#000" textLength="42.40" lengthAdjust="spacingAndGlyphs">konyha</text>
<text x="364.50" y="219.4" font-family="Liberation Serif, serif" font-weight="bold" font-size="11.2" fill="#000" textLength="42.50" lengthAdjust="spacingAndGlyphs">konyha</text>
<text x="290.20" y="285.3" font-family="Liberation Serif, serif" font-weight="bold" font-size="11.2" fill="#000" textLength="20.90" lengthAdjust="spacingAndGlyphs">WC</text>
<text x="289.50" y="323.2" font-family="Liberation Serif, serif" font-weight="bold" font-size="11.2" fill="#000" textLength="20.60" lengthAdjust="spacingAndGlyphs">WC</text>
<text x="475.80" y="273.6" font-family="Liberation Serif, serif" font-weight="bold" font-size="11.2" fill="#000" textLength="44.30" lengthAdjust="spacingAndGlyphs">italpult</text>
<text x="373.50" y="373.5" font-family="Liberation Serif, serif" font-weight="bold" font-size="11.2" fill="#000" textLength="47.10" lengthAdjust="spacingAndGlyphs">étterem</text>
<text x="148.45" y="44.8" font-family="Liberation Serif, serif" font-weight="bold" font-size="15.4" fill="#000" textLength="20.95" lengthAdjust="spacingAndGlyphs">AZ</text>
<text x="174.90" y="44.8" font-family="Liberation Serif, serif" font-weight="bold" font-size="15.4" fill="#000" textLength="82.30" lengthAdjust="spacingAndGlyphs">ALAPRAJZ</text>
<text x="263.20" y="44.8" font-family="Liberation Serif, serif" font-weight="bold" font-size="15.4" fill="#000" textLength="115.15" lengthAdjust="spacingAndGlyphs">TÁJÉKOZTATÓ</text>
<text x="382.00" y="44.8" font-family="Liberation Serif, serif" font-weight="bold" font-size="15.4" fill="#000" textLength="78.80" lengthAdjust="spacingAndGlyphs">JELLEGŰ.</text>
</svg>
</body></html>
